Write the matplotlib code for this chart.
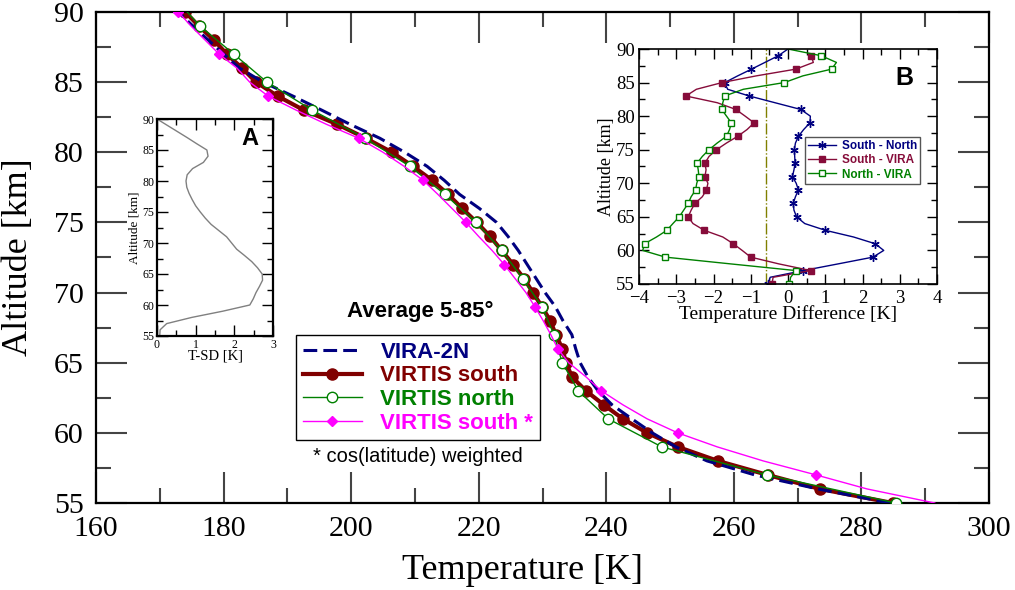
import matplotlib
matplotlib.use("Agg")
import matplotlib.pyplot as plt
from matplotlib.ticker import MultipleLocator

# ---- main panel: mean temperature profiles ----
alt = list(range(55, 91))
vira_2n = [284.5, 273.2, 263.3, 255.8, 250.9, 247.2, 244.0, 240.9, 238.7, 237.1,
           235.9, 235.2, 234.6, 233.2, 232.0, 230.4, 229.0, 227.6, 226.2, 224.6,
           222.8, 220.1, 217.0, 214.6, 211.9, 208.4, 204.5, 199.8, 195.4, 190.9,
           186.2, 182.5, 180.0, 177.6, 175.2, 172.9]
virtis_south = [284.9, 273.5, 265.3, 257.5, 251.2, 246.4, 242.6, 239.6, 236.8, 234.6,
                233.7, 233.1, 232.1, 231.2, 229.9, 228.5, 227.1, 225.4, 223.6, 221.8,
                219.7, 217.4, 215.2, 212.7, 209.7, 206.4, 202.3, 197.8, 192.6, 188.5,
                185.1, 182.9, 180.5, 178.5, 176.1, 174.0]
alt_north = [55, 57, 59, 61, 63, 65, 67, 69, 71, 73, 75, 77, 79, 81, 83, 85, 87, 89, 90]
virtis_north = [285.4, 265.2, 248.7, 240.3, 235.6, 233.1, 231.8, 229.9, 226.9, 223.6,
                219.6, 214.7, 209.2, 202.2, 193.9, 186.8, 181.6, 176.3, 174.3]
virtis_south_cos = [291.5, 280.9, 272.9, 264.6, 257.4, 251.2, 246.4, 242.6, 239.2, 236.8,
                    234.1, 232.4, 231.3, 230.1, 228.8, 227.4, 225.7, 224.0, 222.1, 220.0,
                    218.0, 215.8, 213.6, 211.3, 208.3, 205.0, 201.2, 196.1, 191.4, 187.0,
                    184.1, 182.1, 179.3, 177.1, 174.9, 172.9]

# ---- inset A: standard deviation of the south profile ----
tsd = [0.07, 0.08, 0.25, 0.90, 1.70, 2.40, 2.49, 2.56, 2.65, 2.73,
       2.72, 2.60, 2.45, 2.26, 2.06, 1.93, 1.80, 1.60, 1.40, 1.25,
       1.12, 1.00, 0.91, 0.83, 0.77, 0.75, 0.78, 0.92, 1.20, 1.32,
       1.29, 1.03, 0.78, 0.52, 0.26, 0.00]

# ---- inset B: temperature differences ----
south_north = [-0.53, -0.48, 0.41, 1.35, 2.28, 2.57, 2.34, 1.76, 1.00, 0.45,
               0.23, 0.16, 0.14, 0.20, 0.28, 0.22, 0.12, 0.16, 0.19, 0.18,
               0.17, 0.20, 0.28, 0.42, 0.59, 0.60, 0.34, -0.35, -1.04, -1.62,
               -1.70, -1.35, -0.98, -0.62, -0.26, 0.00]
alt_sv = list(range(55, 90))
south_vira = [-0.43, -0.40, 0.61, -0.25, -1.00, -1.23, -1.47, -1.75, -2.25, -2.55,
              -2.68, -2.60, -2.50, -2.30, -2.19, -2.15, -2.23, -2.20, -2.23, -2.12,
              -1.92, -1.65, -1.35, -1.10, -0.91, -1.15, -1.40, -1.90, -2.74, -2.46,
              -1.77, -0.85, 0.21, 0.68, 0.62]
north_vira = [0.04, 0.07, 0.21, -1.55, -3.29, -3.90, -3.85, -3.53, -3.25, -3.09,
              -2.92, -2.80, -2.68, -2.60, -2.48, -2.45, -2.39, -2.41, -2.44, -2.30,
              -2.12, -1.90, -1.65, -1.57, -1.52, -1.65, -1.78, -1.75, -1.70, -1.20,
              -0.10, 0.40, 1.17, 1.30, 0.89, 0.00]
ref_offset = -0.6

serif = "Liberation Serif"
sans = "Liberation Sans"
c_navy = "#000080"
c_maroon = "#800000"
c_green = "#008000"
c_magenta = "#ff00ff"
c_wine = "#860c3a"

fig = plt.figure(figsize=(10.15, 5.9), dpi=100)
ax = fig.add_axes([96 / 1015, 87 / 590, 893 / 1015, 491 / 590])

odd_idx = list(range(0, len(alt), 2))
l_south, = ax.plot(virtis_south, alt, color=c_maroon, lw=3, marker="o", ms=8,
                   mec=c_maroon, mfc=c_maroon, zorder=2, label="VIRTIS south")
l_vira, = ax.plot(vira_2n, alt, color=c_navy, lw=2.2, dashes=(4.5, 2), zorder=3,
                  label="VIRA-2N")
l_north, = ax.plot(virtis_north, alt_north, color=c_green, lw=1, marker="o", ms=7.5,
                   mfc="white", mec=c_green, mew=1,
                   markevery=list(range(len(alt_north) - 1)), zorder=4, label="VIRTIS north")
l_cos, = ax.plot(virtis_south_cos, alt, color=c_magenta, lw=1, marker="D", ms=5.5,
                 mec=c_magenta, mfc=c_magenta, markevery=list(range(2, len(alt), 3)),
                 zorder=5, label="VIRTIS south *")

ax.set_xlim(160, 300)
ax.set_ylim(55, 90)
ax.xaxis.set_major_locator(MultipleLocator(20))
ax.xaxis.set_minor_locator(MultipleLocator(10))
ax.yaxis.set_major_locator(MultipleLocator(5))
ax.yaxis.set_minor_locator(MultipleLocator(2.5))
ax.tick_params(which="both", direction="in", top=True, right=True, color="#444444", width=1.5)
ax.tick_params(which="major", length=22, labelsize=21.5)
ax.tick_params(axis="x", which="major", pad=9)
ax.tick_params(axis="y", which="major", pad=9)
ax.tick_params(which="minor", length=11)
for lab in ax.get_xticklabels() + ax.get_yticklabels():
    lab.set_fontfamily(serif)
for sp in ax.spines.values():
    sp.set_linewidth(1.6)
ax.set_xlabel("Temperature [K]", fontfamily=serif, fontsize=26)
ax.set_ylabel("Altitude [km]", fontfamily=serif, fontsize=26)
ax.xaxis.set_label_coords(0.478, -0.103)
ax.yaxis.set_label_coords(-0.068, 0.5)

leg = ax.legend(handles=[l_vira, l_south, l_north, l_cos], loc="upper left",
                bbox_to_anchor=(0.224, 0.342), frameon=True, fancybox=False,
                edgecolor="black", framealpha=1, borderaxespad=0,
                handlelength=2.65, handletextpad=0.85, labelspacing=0.12,
                borderpad=0.3, labelcolor="linecolor",
                prop={"family": sans, "weight": "bold", "size": 16})
leg.get_frame().set_linewidth(1)
ax.text(0.363, 0.391, "Average 5-85°", transform=ax.transAxes, ha="center", va="center",
        fontfamily=sans, fontweight="bold", fontsize=16)
ax.text(0.361, 0.094, "* cos(latitude) weighted", transform=ax.transAxes, ha="center",
        va="center", fontfamily=sans, fontsize=14.5)

# ---- inset A ----
axa = fig.add_axes([157 / 1015, 254 / 590, 116 / 1015, 217 / 590])
axa.plot(tsd, alt, color="#808080", lw=1)
axa.set_xlim(0, 3)
axa.set_ylim(55, 90)
axa.xaxis.set_major_locator(MultipleLocator(1))
axa.xaxis.set_minor_locator(MultipleLocator(0.5))
axa.yaxis.set_major_locator(MultipleLocator(5))
axa.yaxis.set_minor_locator(MultipleLocator(2.5))
axa.tick_params(which="both", direction="in", top=True, right=True, width=1, labelsize=8.5, pad=2)
axa.tick_params(which="major", length=8)
axa.tick_params(which="minor", length=4)
for lab in axa.get_xticklabels() + axa.get_yticklabels():
    lab.set_fontfamily(serif)
for sp in axa.spines.values():
    sp.set_linewidth(1.6)
axa.set_xlabel("T-SD [K]", fontfamily=serif, fontsize=10.5, labelpad=-1)
axa.set_ylabel("Altitude [km]", fontfamily=serif, fontsize=9.5, labelpad=1)
axa.text(0.80, 0.91, "A", transform=axa.transAxes, ha="center", va="center",
         fontfamily=sans, fontweight="bold", fontsize=17)

# ---- inset B ----
axb = fig.add_axes([639 / 1015, 306 / 590, 298 / 1015, 235 / 590])
axb.axvline(ref_offset, color="#808000", lw=1, dashes=(8, 1.5, 1, 1.5))
b_sn, = axb.plot(south_north, alt, color=c_navy, lw=1, marker=(6, 2, 0), ms=6,
                 markevery=odd_idx, label="South - North")
b_sv, = axb.plot(south_vira, alt_sv, color=c_wine, lw=1, marker="s", ms=4.5,
                 mfc=c_wine, mec=c_wine, markevery=list(range(0, len(alt_sv), 2)),
                 label="South - VIRA")
b_nv, = axb.plot(north_vira, alt, color=c_green, lw=1, marker="s", ms=4.5,
                 mfc="white", mec=c_green, markevery=odd_idx, label="North - VIRA")
axb.set_xlim(-4, 4)
axb.set_ylim(55, 90)
axb.xaxis.set_major_locator(MultipleLocator(1))
axb.xaxis.set_minor_locator(MultipleLocator(0.5))
axb.yaxis.set_major_locator(MultipleLocator(5))
axb.yaxis.set_minor_locator(MultipleLocator(2.5))
axb.tick_params(which="both", direction="in", top=True, right=True, width=1, labelsize=13.5)
axb.tick_params(axis="x", pad=4)
axb.tick_params(axis="y", pad=3)
axb.tick_params(which="major", length=7)
axb.tick_params(which="minor", length=4)
for lab in axb.get_xticklabels() + axb.get_yticklabels():
    lab.set_fontfamily(serif)
for sp in axb.spines.values():
    sp.set_linewidth(1.2)
axb.set_xlabel("Temperature Difference [K]", fontfamily=serif, fontsize=14, labelpad=-1)
axb.set_ylabel("Altitude [km]", fontfamily=serif, fontsize=13, labelpad=1)
axb.text(0.89, 0.877, "B", transform=axb.transAxes, ha="center", va="center",
         fontfamily=sans, fontweight="bold", fontsize=18)
legb = axb.legend(handles=[b_sn, b_sv, b_nv], loc="upper left", bbox_to_anchor=(0.557, 0.626),
                  frameon=True, fancybox=False, edgecolor="#555555", framealpha=1,
                  borderaxespad=0, handlelength=2.4, handletextpad=0.5, labelspacing=0.2,
                  borderpad=0.25, labelcolor="linecolor",
                  prop={"family": sans, "weight": "bold", "size": 8.5})
legb.get_frame().set_linewidth(1)

fig.savefig("out.png", dpi=100)
